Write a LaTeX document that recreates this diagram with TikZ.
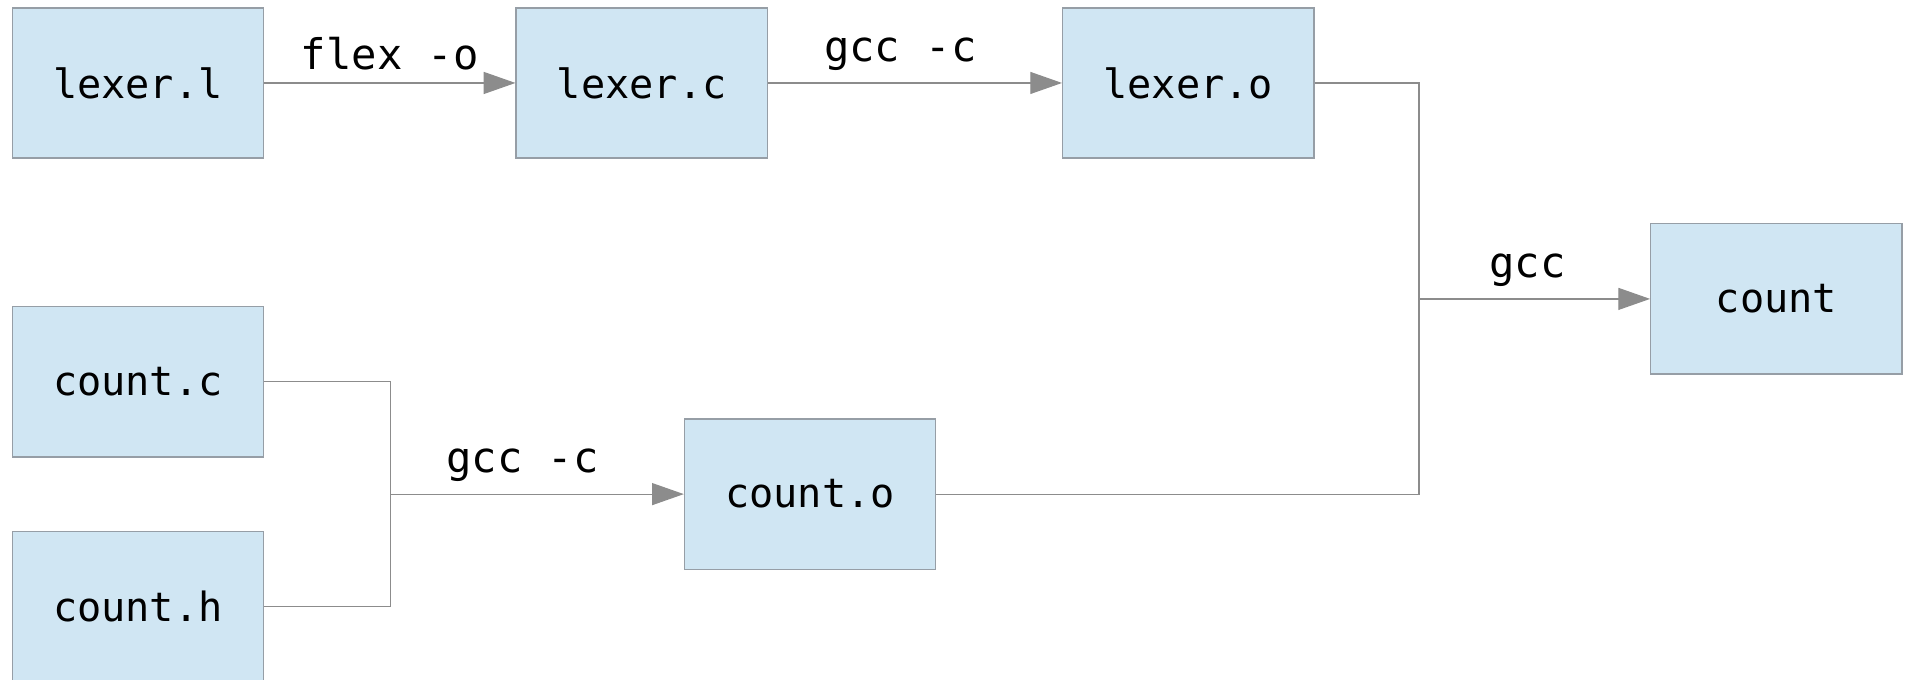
\documentclass[tikz,border=0pt]{standalone}
\usepackage{fontspec}
\setmonofont{DejaVu Sans Mono}
\usetikzlibrary{arrows.meta}
\definecolor{boxblue}{RGB}{208, 230, 243}
\definecolor{boxline}{RGB}{150, 158, 166}
\definecolor{wiregray}{RGB}{140, 140, 140}
\tikzset{
  file/.style={draw=boxline, line width=0.5pt, fill=boxblue, minimum width=103pt,
    minimum height=61.5pt, inner sep=0pt, font=\fontsize{16.5}{19}\selectfont\ttfamily},
  wire/.style={draw=wiregray, line width=0.5pt},
  flow/.style={wire, -{Triangle[length=13pt, width=9pt, fill=wiregray]}},
  cmd/.style={above, inner sep=5pt, font=\fontsize{17.3}{20}\selectfont\ttfamily}
}

\begin{document}
\begin{tikzpicture}[x=0.5pt, y=-0.5pt]
\useasboundingbox (0,0) rectangle (1568,557);

% Files
\node[file] (lexl) at (113,68) {lexer.l};
\node[file] (lexc) at (526,68) {lexer.c};
\node[file] (lexo) at (974,68) {lexer.o};
\node[file] (countc) at (113,313) {count.c};
\node[file] (counth) at (113,497) {count.h};
\node[file] (counto) at (664,405) {count.o};
\node[file] (count) at (1456,245) {count};

% Join points
\coordinate (jcount) at (320,405);
\coordinate (jlink) at (1163,245);

% Lexer chain
\draw[flow] (lexl) -- node[cmd] {flex -o} (lexc);
\draw[flow] (lexc) -- node[cmd, pos=0.45] {gcc -c} (lexo);

% Count sources
\draw[wire] (countc.east) -| (jcount);
\draw[wire] (counth.east) -| (jcount);
\draw[flow] (jcount) -- node[cmd, pos=0.45] {gcc -c} (counto);

% Link
\draw[wire] (lexo.east) -| (jlink);
\draw[wire] (counto.east) -| (jlink);
\draw[flow] (jlink) -- node[cmd, pos=0.47] {gcc} (count);
\end{tikzpicture}
\end{document}
